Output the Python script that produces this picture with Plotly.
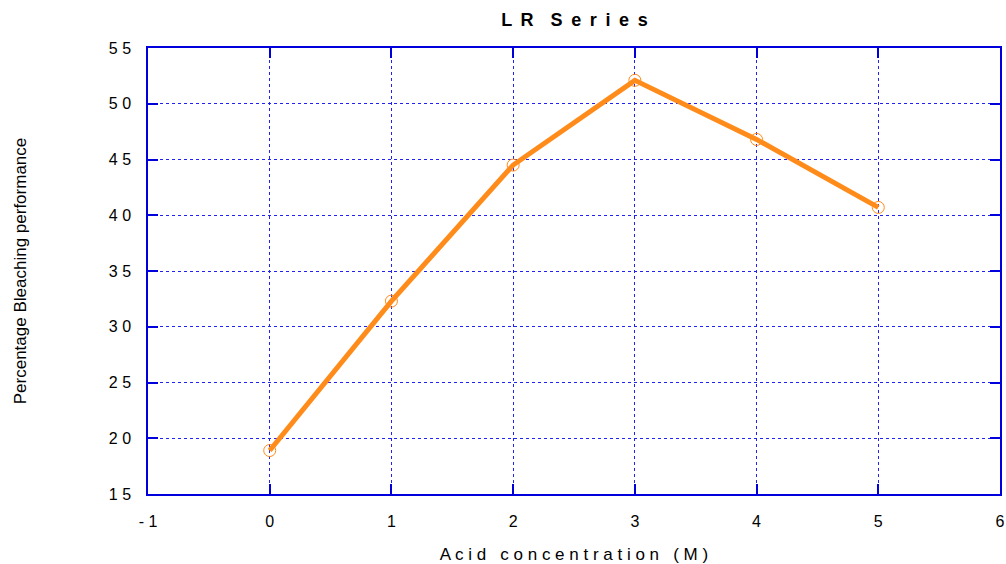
import plotly.graph_objects as go

acid_conc = [0, 1, 2, 3, 4, 5]
bleaching = [18.9, 32.3, 44.5, 52.1, 46.8, 40.7]

x_tick_vals = [-1, 0, 1, 2, 3, 4, 5, 6]
x_tick_text = ["- 1", "0", "1", "2", "3", "4", "5", "6"]
y_tick_vals = [15, 20, 25, 30, 35, 40, 45, 50, 55]
y_tick_text = ["1 5", "2 0", "2 5", "3 0", "3 5", "4 0", "4 5", "5 0", "5 5"]

orange = "#FF8C1A"
blue = "#0000DD"
grid_blue = "#2222EE"
font_fam = "Liberation Sans, Arial"

title_text = " \u2009".join(list("LR")) + " \u2009\u2009 " + " \u2009".join(list("Series"))

fig = go.Figure()
fig.add_trace(go.Scatter(
    x=acid_conc, y=bleaching, mode="lines+markers",
    line=dict(color=orange, width=5),
    marker=dict(symbol="circle-open", size=12, color=orange, line=dict(width=1, color=orange)),
    showlegend=False,
))

axis_common = dict(
    showline=True, linecolor=blue, linewidth=1.5, mirror="ticks",
    ticks="inside", ticklen=10, tickcolor=blue, tickwidth=1.5,
    showgrid=True, gridcolor=grid_blue, gridwidth=1, griddash="dot",
    zeroline=False, ticklabelstandoff=12, automargin=False,
    tickfont=dict(family=font_fam, size=16, color="#000"),
)

fig.update_layout(
    width=1006, height=564,
    paper_bgcolor="white", plot_bgcolor="white",
    margin=dict(l=148, r=6, t=48, b=70),
    title=dict(text=title_text, x=0.571, xanchor="center",
               yref="container", y=1 - 20 / 564, yanchor="middle",
               font=dict(family=font_fam, size=18, color="#000", weight="bold")),
    xaxis=dict(range=[-1, 6], tickvals=x_tick_vals, ticktext=x_tick_text,
               title=dict(text="A c i d   c o n c e n t r a t i o n   ( M )", standoff=30,
                          font=dict(family=font_fam, size=17, color="#000")),
               **axis_common),
    yaxis=dict(range=[15, 55], tickvals=y_tick_vals, ticktext=y_tick_text,
               title=dict(text="Percentage Bleaching performance", standoff=78,
                          font=dict(family=font_fam, size=17, color="#000")),
               **axis_common),
)

fig.write_html("out.html")
